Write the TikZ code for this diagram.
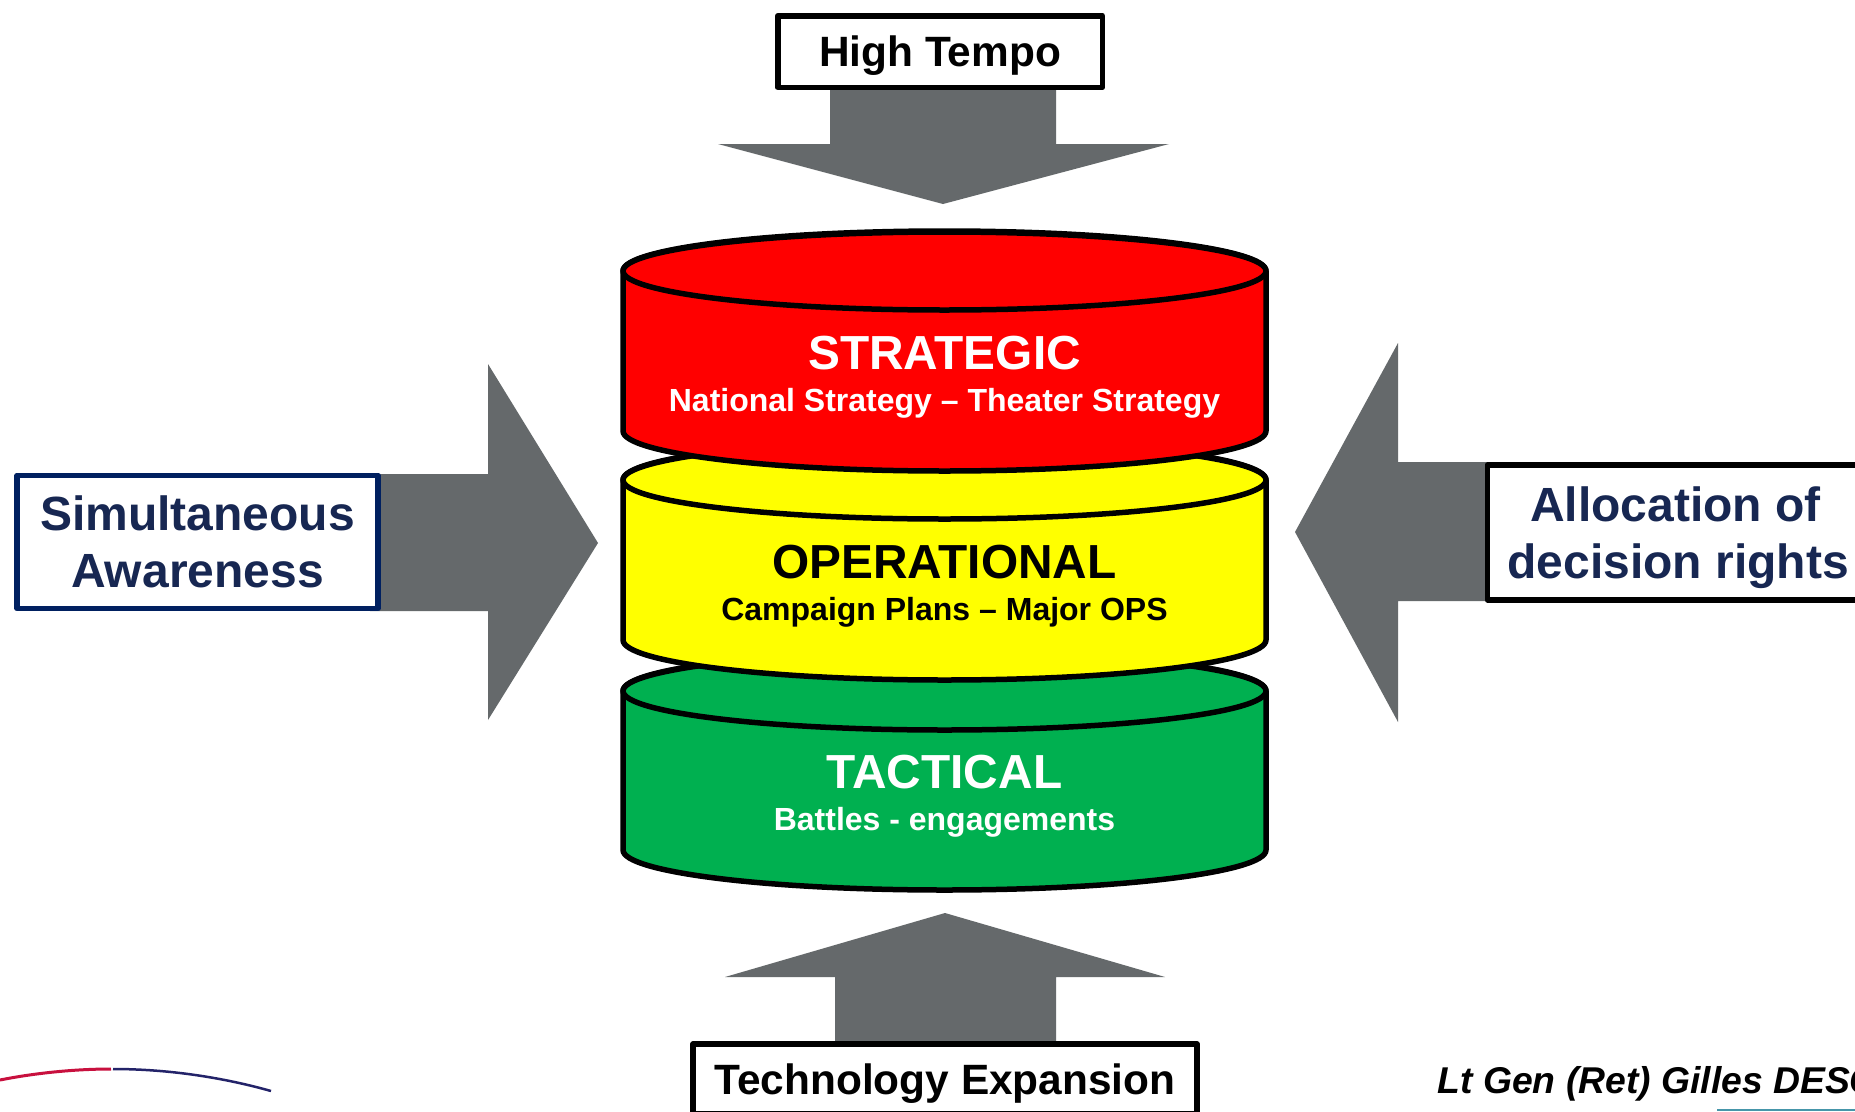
\documentclass[tikz,border=0pt]{standalone}
\usepackage{fontspec}
\setmainfont{Liberation Sans}
\usepackage{xcolor}
\usetikzlibrary{positioning}
\definecolor{arrowgray}{RGB}{101,105,107}
\definecolor{navytext}{RGB}{23,39,82}
\definecolor{navyline}{RGB}{0,32,96}
\definecolor{tacticgreen}{RGB}{0,176,80}
\definecolor{opyellow}{RGB}{255,255,0}
\definecolor{stratred}{RGB}{255,0,0}
\definecolor{logored}{RGB}{200,16,62}
\definecolor{logonavy}{RGB}{35,35,105}
\definecolor{rulecolor}{RGB}{70,150,170}
\tikzset{
    bigarrow/.style={fill=arrowgray, draw=none},
    tier/.style={draw=black, line width=5.5pt, line join=round},
    labelbox/.style={draw=black, fill=white, line width=5.5pt, line join=round, align=center, font=\bfseries\fontsize{48}{57}\selectfont},
    flowbox/.style={labelbox, text depth=0pt, font=\bfseries\fontsize{42.4}{50}\selectfont},
    tiertitle/.style={text=#1, font=\bfseries\fontsize{47.8}{50}\selectfont},
    tiersub/.style={text=#1, font=\bfseries\fontsize{32}{36}\selectfont},
}
\begin{document}
\begin{tikzpicture}[x=1pt, y=-1pt]
    \useasboundingbox (0,0) rectangle (1855,1111);
    \fill[white] (0,0) rectangle (1855,1111);

    % Pressure arrows
    \fill[bigarrow] (830,80) -- (830,144) -- (718,144) -- (943,204) -- (1169,144) -- (1056,144) -- (1056,80) -- cycle;
    \fill[bigarrow] (835,1050) -- (835,977) -- (725,977) -- (945,913) -- (1165,977) -- (1056,977) -- (1056,1050) -- cycle;
    \fill[bigarrow] (370,474) -- (488,474) -- (488,364) -- (598,543) -- (488,720) -- (488,611) -- (370,611) -- cycle;
    \fill[bigarrow] (1495,462) -- (1398,462) -- (1398,343) -- (1295,532) -- (1398,722) -- (1398,601) -- (1495,601) -- cycle;

    % Tactical
    \draw[tier, fill=tacticgreen] (623,691) -- (623,850) arc[start angle=180, end angle=0, x radius=321.5, y radius=40] -- (1266,691) arc[start angle=0, end angle=-180, x radius=321.5, y radius=40] -- cycle;
    \draw[tier, fill=tacticgreen] (944.5,691) ellipse[x radius=321.5, y radius=39];
    \node[tiertitle=white] (tacticalname) at (944.5,772) {TACTICAL};
    \node[tiersub=white, below=11pt of tacticalname] (tacticalsub) {Battles - engagements};

    % Operational
    \draw[tier, fill=opyellow] (623,480) -- (623,640) arc[start angle=180, end angle=0, x radius=321.5, y radius=40] -- (1266,480) arc[start angle=0, end angle=-180, x radius=321.5, y radius=40] -- cycle;
    \draw[tier, fill=opyellow] (944.5,480) ellipse[x radius=321.5, y radius=39];
    \node[tiertitle=black] (operationalname) at (944.5,562) {OPERATIONAL};
    \node[tiersub=black, below=11pt of operationalname] (operationalsub) {Campaign Plans – Major OPS};

    % Strategic
    \draw[tier, fill=stratred] (623,271) -- (623,431) arc[start angle=180, end angle=0, x radius=321.5, y radius=40] -- (1266,271) arc[start angle=0, end angle=-180, x radius=321.5, y radius=40] -- cycle;
    \draw[tier, fill=stratred] (944.5,271) ellipse[x radius=321.5, y radius=39];
    \node[tiertitle=white] (strategicname) at (944.5,353) {STRATEGIC};
    \node[tiersub=white, below=11pt of strategicname] (strategicsub) {National Strategy – Theater Strategy};

    % Label boxes
    \node[flowbox, minimum width=324.5pt, minimum height=71.5pt] (hightempo) at (940,51.5) {High Tempo};
    \node[flowbox, minimum width=504pt, minimum height=70pt] (technology) at (945,1079) {Technology Expansion};
    \node[labelbox, draw=navyline, text=navytext, minimum width=361pt, minimum height=133pt] (awareness) at (197.5,542) {Simultaneous\\Awareness};
    \node[labelbox, text=navytext, text depth=0pt, minimum width=381pt, minimum height=135pt] (allocation) at (1678,532.5) {Allocation of\hspace*{5.3pt}\\decision rights};

    % Bottom corners
    \node[anchor=west, font=\bfseries\itshape\fontsize{37.3}{40}\selectfont] (signature) at (1434,1084) {Lt Gen (Ret) Gilles DESC};
    \draw[logored, line width=3pt] (0,1080) .. controls (35,1073) and (75,1069) .. (111,1069);
    \draw[logonavy, line width=2.5pt] (113,1069) .. controls (170,1069) and (225,1078) .. (271,1091);
    \draw[rulecolor, line width=2pt] (1717,1110) -- (1855,1110);
\end{tikzpicture}
\end{document}
